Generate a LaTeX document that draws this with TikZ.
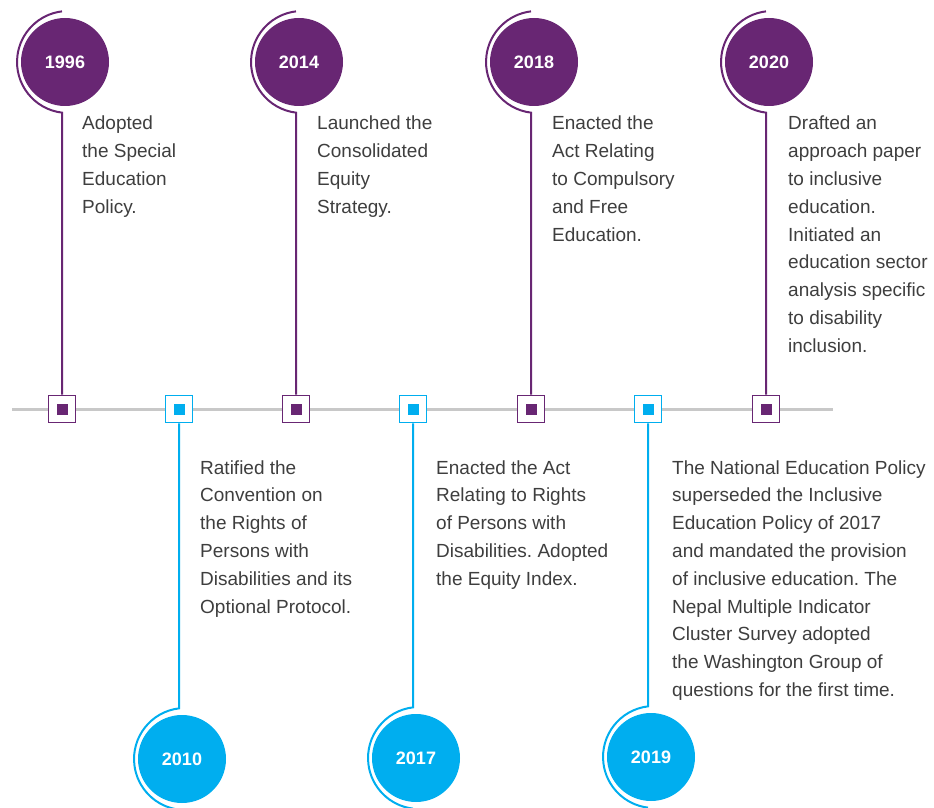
\documentclass[tikz,border=0pt]{standalone}
\usepackage{fontspec}
\setmainfont{Liberation Sans}
\frenchspacing
\definecolor{tlpurple}{RGB}{104,38,115}
\definecolor{tlblue}{RGB}{0,174,239}
\definecolor{tlgray}{RGB}{200,200,200}
\definecolor{tltext}{RGB}{62,62,62}
\newcommand\tllines[1]{\begin{tabular}[t]{@{}l@{}}#1\end{tabular}}
\tikzset{
  yearbox/.style={circle, minimum size=88pt, inner sep=0pt, text=white,
    font=\fontsize{18}{20}\selectfont\bfseries},
  yearP/.style={yearbox, fill=tlpurple},
  yearB/.style={yearbox, fill=tlblue},
  sqbox/.style={rectangle, minimum size=27pt, inner sep=0pt, fill=white, line width=1.6pt},
  sqP/.style={sqbox, draw=tlpurple},
  sqB/.style={sqbox, draw=tlblue},
  dotbox/.style={rectangle, minimum size=11pt, inner sep=0pt},
  dotP/.style={dotbox, fill=tlpurple},
  dotB/.style={dotbox, fill=tlblue},
  stemP/.style={draw=tlpurple, line width=2pt},
  stemB/.style={draw=tlblue, line width=2pt},
  desc/.style={anchor=base west, inner sep=0pt, text=tltext,
    font=\fontsize{19}{27.8}\selectfont\frenchspacing},
}
\begin{document}
\begin{tikzpicture}[x=1pt,y=1pt]
\useasboundingbox (0,0) rectangle (934,807);
% axis
\coordinate (axL) at (12,398);
\coordinate (axR) at (833,398);
\draw[tlgray, line width=3pt] (axL) -- (axR);

% ---- top events (purple) ----
% 1996
\node[sqP] (s1996) at (62,398) {};
\node[dotP] at (s1996.center) {};
\node[yearP] (c1996) at (65,745) {1996};
\draw[stemP] (s1996.north) -- (62,694.35) arc[start angle=263.2, end angle=96.8, radius=51pt];
\node[desc] (t1996) at (82,677) {\tllines{Adopted\\the Special\\Education\\Policy.}};
% 2014
\node[sqP] (s2014) at (296,398) {};
\node[dotP] at (s2014.center) {};
\node[yearP] (c2014) at (299,745) {2014};
\draw[stemP] (s2014.north) -- (296,694.35) arc[start angle=263.2, end angle=96.8, radius=51pt];
\node[desc] (t2014) at (317,677) {\tllines{Launched the\\Consolidated\\Equity\\Strategy.}};
% 2018
\node[sqP] (s2018) at (531,398) {};
\node[dotP] at (s2018.center) {};
\node[yearP] (c2018) at (534,745) {2018};
\draw[stemP] (s2018.north) -- (531,694.35) arc[start angle=263.2, end angle=96.8, radius=51pt];
\node[desc] (t2018) at (552,677) {\tllines{Enacted the\\Act Relating\\to Compulsory\\and Free\\Education.}};
% 2020
\node[sqP] (s2020) at (766,398) {};
\node[dotP] at (s2020.center) {};
\node[yearP] (c2020) at (769,745) {2020};
\draw[stemP] (s2020.north) -- (766,694.35) arc[start angle=263.2, end angle=96.8, radius=51pt];
\node[desc] (t2020) at (788,677) {\tllines{Drafted an\\approach paper\\to inclusive\\education.\\Initiated an\\education sector\\analysis specific\\to disability\\inclusion.}};

% ---- bottom events (blue) ----
% 2010
\node[sqB] (s2010) at (179,398) {};
\node[dotB] at (s2010.center) {};
\node[yearB] (c2010) at (182,48) {2010};
\draw[stemB] (s2010.south) -- (179,98.65) arc[start angle=96.8, end angle=263.2, radius=51pt];
\node[desc] (t2010) at (200,333) {\tllines{Ratified the\\Convention on\\the Rights of\\Persons with\\Disabilities and its\\Optional Protocol.}};
% 2017
\node[sqB] (s2017) at (413,398) {};
\node[dotB] at (s2017.center) {};
\node[yearB] (c2017) at (416,49) {2017};
\draw[stemB] (s2017.south) -- (413,99.65) arc[start angle=96.8, end angle=263.2, radius=51pt];
\node[desc] (t2017) at (436,333) {\tllines{Enacted the Act\\Relating to Rights\\of Persons with\\Disabilities. Adopted\\the Equity Index.}};
% 2019
\node[sqB] (s2019) at (648,398) {};
\node[dotB] at (s2019.center) {};
\node[yearB] (c2019) at (651,50) {2019};
\draw[stemB] (s2019.south) -- (648,100.65) arc[start angle=96.8, end angle=263.2, radius=51pt];
\node[desc] (t2019) at (672,333) {\tllines{The National Education Policy\\superseded the Inclusive\\Education Policy of 2017\\and mandated the provision\\of inclusive education. The\\Nepal Multiple Indicator\\Cluster Survey adopted\\the Washington Group of\\questions for the first time.}};
\end{tikzpicture}
\end{document}
